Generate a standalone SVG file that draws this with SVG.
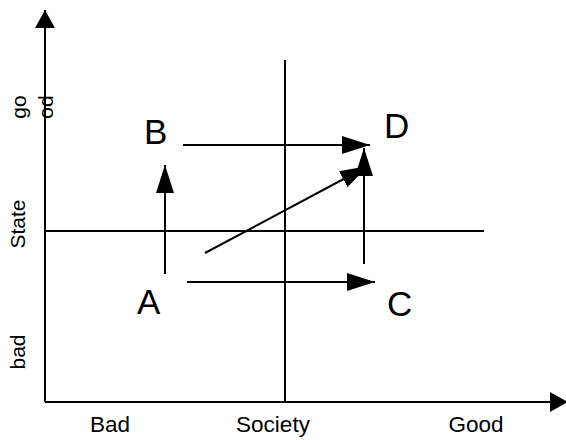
<svg xmlns="http://www.w3.org/2000/svg" width="566" height="440" viewBox="0 0 566 440">
<style>
.ln{stroke:#000;stroke-width:2;fill:none}
.big{font-family:"Liberation Sans",Arial,sans-serif;font-size:35px;fill:#000}
.lab{font-family:"Liberation Sans",Arial,sans-serif;font-size:21px;fill:#000}
.bot{font-family:"Liberation Sans",Arial,sans-serif;font-size:22.5px;fill:#000}
</style>
<defs>
<marker id="ah" markerUnits="userSpaceOnUse" markerWidth="28" markerHeight="18" refX="28" refY="9" orient="auto" viewBox="0 0 28 18">
<path d="M0,0 L28,9 L0,18 z" fill="#000"/>
</marker>
<marker id="ax" markerUnits="userSpaceOnUse" markerWidth="18" markerHeight="20" refX="18" refY="10" orient="auto" viewBox="0 0 18 20">
<path d="M0,0 L18,10 L0,20 z" fill="#000"/>
</marker>
</defs>
<g id="axes">
<line class="ln" x1="45" y1="402" x2="45" y2="10" marker-end="url(#ax)"/>
<line class="ln" x1="45" y1="402" x2="568" y2="402" marker-end="url(#ax)"/>
<line class="ln" x1="285" y1="60" x2="285" y2="402"/>
<line class="ln" x1="45" y1="231" x2="484" y2="231"/>
</g>
<g id="axis-labels">
<text class="lab" text-anchor="middle" transform="translate(25,352) rotate(-90)">bad</text>
<text class="lab" text-anchor="middle" transform="translate(25,224) rotate(-90)">State</text>
<text class="lab" text-anchor="middle" transform="translate(26,107) rotate(-90)">go</text>
<text class="lab" text-anchor="middle" transform="translate(53,107) rotate(-90)">od</text>
<text class="bot" x="110" y="432" text-anchor="middle">Bad</text>
<text class="bot" x="273" y="432" text-anchor="middle">Society</text>
<text class="bot" x="476" y="432" text-anchor="middle">Good</text>
</g>
<g id="A"><text class="big" x="137" y="314">A</text></g>
<g id="B"><text class="big" x="144" y="144">B</text></g>
<g id="C"><text class="big" x="387" y="316">C</text></g>
<g id="D"><text class="big" x="384" y="138">D</text></g>
<g id="connectors">
<line class="ln" x1="165" y1="274" x2="165" y2="165" marker-end="url(#ah)"/>
<line class="ln" x1="183" y1="145" x2="370" y2="145" marker-end="url(#ah)"/>
<line class="ln" x1="187" y1="282" x2="375" y2="282" marker-end="url(#ah)"/>
<line class="ln" x1="364" y1="264" x2="364" y2="148" marker-end="url(#ah)"/>
<line class="ln" x1="205" y1="253" x2="368" y2="166" marker-end="url(#ah)"/>
</g>
</svg>
